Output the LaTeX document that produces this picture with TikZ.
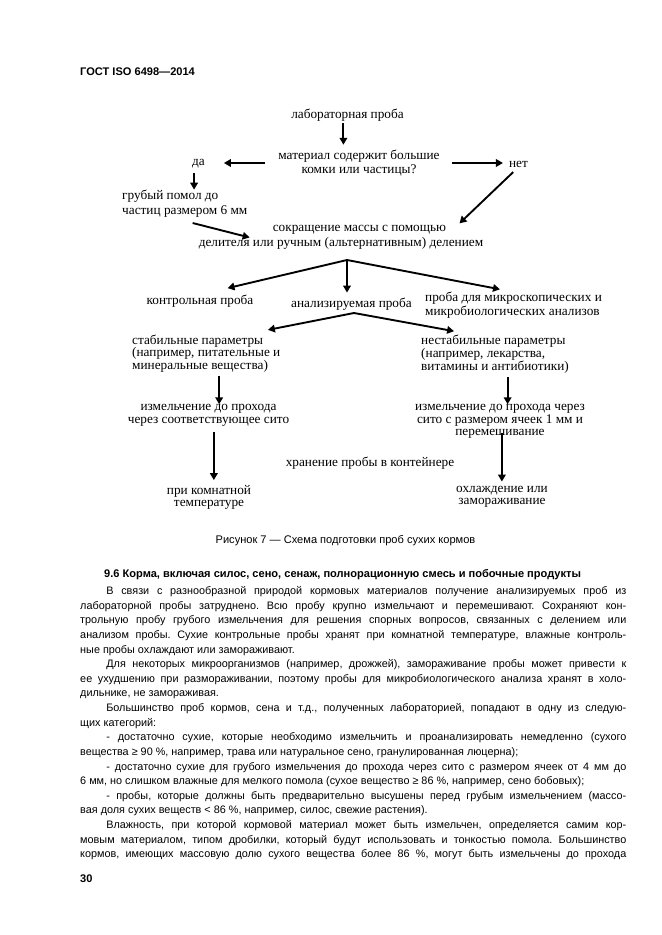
\documentclass[tikz,border=0pt]{standalone}
\usepackage{fontspec}
\setmainfont{Liberation Serif}
\setsansfont{Liberation Sans}
\usetikzlibrary{arrows.meta,positioning}
\newcommand\fullln[1]{\hbox to\hsize{#1}}
\newcommand\lastln[1]{\hbox{#1}}
\frenchspacing

\begin{document}
\begin{tikzpicture}[x=0.3177mm,y=-0.3177mm,
  lbl/.style={font=\rmfamily\fontsize{12}{12.5}\selectfont, inner sep=0pt, align=center},
  lblL/.style={lbl, align=left},
  arr/.style={line width=1.7pt, -{Triangle[length=2.2mm,width=2.4mm]}},
  sfbold/.style={font=\sffamily\bfseries\fontsize{10}{12}\selectfont, inner sep=0pt}
]
\useasboundingbox[fill=white] (0,0) rectangle (661,935);

\node[sfbold, anchor=west] (hdr) at (80,72) {ГОСТ ISO 6498—2014};

% scheme
\node[lbl] (lab) at (347.5,115) {лабораторная проба};
\node[lbl, font=\rmfamily\fontsize{12}{12.6}\selectfont] (mat) at (359,163) {материал содержит большие\\комки или частицы?};
\node[lbl] (da) at (198.5,164) {да};
\node[lbl] (net) at (518.5,164) {нет};
\node[lblL, anchor=west, font=\rmfamily\fontsize{12}{13.5}\selectfont] (grub) at (122,203.5) {грубый помол до\\частиц размером 6 мм};
\node[lbl, font=\rmfamily\fontsize{12}{13.5}\selectfont] (sokr) at (341,237.5)
  {\hspace*{11.7mm}сокращение массы с помощью\\делителя или ручным (альтернативным) делением};
\node[lbl] (contr) at (200,301) {контрольная проба};
\node[lbl] (anal) at (351.5,304) {анализируемая проба};
\node[lblL, anchor=west, font=\rmfamily\fontsize{12}{10.8}\selectfont] (micro) at (425,305)
  {проба для микроскопических и\\микробиологических анализов};
\node[lblL, anchor=west, font=\rmfamily\fontsize{12}{11.3}\selectfont] (stab) at (132,353.5)
  {стабильные параметры\\(например, питательные и\\минеральные вещества)};
\node[lblL, anchor=west, font=\rmfamily\fontsize{12}{10.8}\selectfont] (nestab) at (421,354)
  {нестабильные параметры\\(например, лекарства,\\витамины и антибиотики)};
\node[lbl, font=\rmfamily\fontsize{12}{11.7}\selectfont] (izm1) at (208.5,415.5)
  {измельчение до прохода\\через соответствующее сито};
\node[lbl, font=\rmfamily\fontsize{12}{11.3}\selectfont] (izm2) at (500,421.5)
  {измельчение до прохода через\\сито с размером ячеек 1 мм и\\перемешивание};
\node[lbl] (hran) at (370,463) {хранение пробы в контейнере};
\node[lbl, font=\rmfamily\fontsize{12}{10.8}\selectfont] (komn) at (209,497) {при комнатной\\температуре};
\node[lbl, font=\rmfamily\fontsize{12}{10.8}\selectfont] (ohl) at (502,497) {охлаждение или\\замораживание};

\coordinate (spl1) at (347,260);
\coordinate (spl2) at (354,313);

\draw[arr, shorten <=0.6mm, shorten >=1.6mm] ([xshift=-1.3mm]lab.south) -- ([xshift=-1.3mm]lab.south |- mat.north);
\draw[arr, shorten <=4.1mm, shorten >=6mm] (mat.west) -- (mat.west -| da.east);
\draw[arr, shorten <=3.8mm, shorten >=1.9mm] (mat.east) -- (mat.east -| net.west);
\draw[arr, shorten <=1.5mm] ([xshift=-1.4mm]da.south) -- ([xshift=-1.4mm]da.south |- grub.north);
\draw[arr] ([xshift=2.5mm,yshift=-1.8mm]grub.south) -- ([xshift=16.2mm]sokr.west);
\draw[arr] ([xshift=-1.7mm,yshift=-1.5mm]net.south) -- ([xshift=-7.6mm,yshift=0.6mm]sokr.north east);
\draw[arr, shorten >=9mm] (spl1) -- (contr.north);
\draw[arr, shorten >=1.6mm] (spl1) -- (spl1 |- anal.north);
\draw[arr, shorten >=4.4mm] (spl1) -- (micro.north);
\draw[arr] (spl2) -- ([xshift=-4mm,yshift=1.5mm]stab.north east);
\draw[arr] (spl2) -- ([xshift=10.5mm,yshift=1mm]nestab.north west);
\draw[arr, shorten <=1mm] ([xshift=4.1mm]stab.south) -- ([xshift=4.1mm]stab.south |- izm1.north);
\draw[arr, shorten <=1mm] ([xshift=4mm]nestab.south) -- ([xshift=4mm]nestab.south |- izm2.north);
\draw[arr, shorten <=1.8mm, shorten >=1.5mm] ([xshift=1.7mm]izm1.south) -- ([xshift=1.7mm]izm1.south |- komn.north);
\draw[arr, shorten >=1.5mm] ([xshift=0.6mm,yshift=1.9mm]izm2.south) -- ([xshift=0.6mm]izm2.south |- ohl.north);

\node[sfbold, font=\sffamily\fontsize{10}{12}\selectfont] (cap) at (345.5,541) {Рисунок 7 — Схема подготовки проб сухих кормов};

% text of the page
\node[sfbold, anchor=west] (head) at (104,575)
  {9.6 Корма, включая силос, сено, сенаж, полнорационную смесь и побочные продукты};
\node[inner sep=0pt, anchor=north west, font=\sffamily\fontsize{9.8}{13.2}\selectfont] (txt) at (80,586.5) {\vbox{\hsize=173.5mm
  \fullln{\hskip8.3mm В связи с разнообразной природой кормовых материалов получение анализируемых проб из}
  \fullln{лабораторной пробы затруднено. Всю пробу крупно измельчают и перемешивают. Сохраняют кон-}
  \fullln{трольную пробу грубого измельчения для решения спорных вопросов, связанных с делением или}
  \fullln{анализом пробы. Сухие контрольные пробы хранят при комнатной температуре, влажные контроль-}
  \lastln{ные пробы охлаждают или замораживают.}
  \fullln{\hskip8.3mm Для некоторых микроорганизмов (например, дрожжей), замораживание пробы может привести к}
  \fullln{ее ухудшению при размораживании, поэтому пробы для микробиологического анализа хранят в холо-}
  \lastln{дильнике, не замораживая.}
  \fullln{\hskip8.3mm Большинство проб кормов, сена и т.д., полученных лабораторией, попадают в одну из следую-}
  \lastln{щих категорий:}
  \fullln{\hskip8.3mm - достаточно сухие, которые необходимо измельчить и проанализировать немедленно (сухого}
  \lastln{вещества ≥ 90 \%, например, трава или натуральное сено, гранулированная люцерна);}
  \fullln{\hskip8.3mm - достаточно сухие для грубого измельчения до прохода через сито с размером ячеек от 4 мм до}
  \lastln{6 мм, но слишком влажные для мелкого помола (сухое вещество ≥ 86 \%, например, сено бобовых);}
  \fullln{\hskip8.3mm - пробы, которые должны быть предварительно высушены перед грубым измельчением (массо-}
  \lastln{вая доля сухих веществ < 86 \%, например, силос, свежие растения).}
  \fullln{\hskip8.3mm Влажность, при которой кормовой материал может быть измельчен, определяется самим кор-}
  \fullln{мовым материалом, типом дробилки, который будут использовать и тонкостью помола. Большинство}
  \fullln{кормов, имеющих массовую долю сухого вещества более 86 \%, могут быть измельчены до прохода}}};
\node[sfbold, anchor=west] (pg) at (80,879) {30};
\end{tikzpicture}
\end{document}
